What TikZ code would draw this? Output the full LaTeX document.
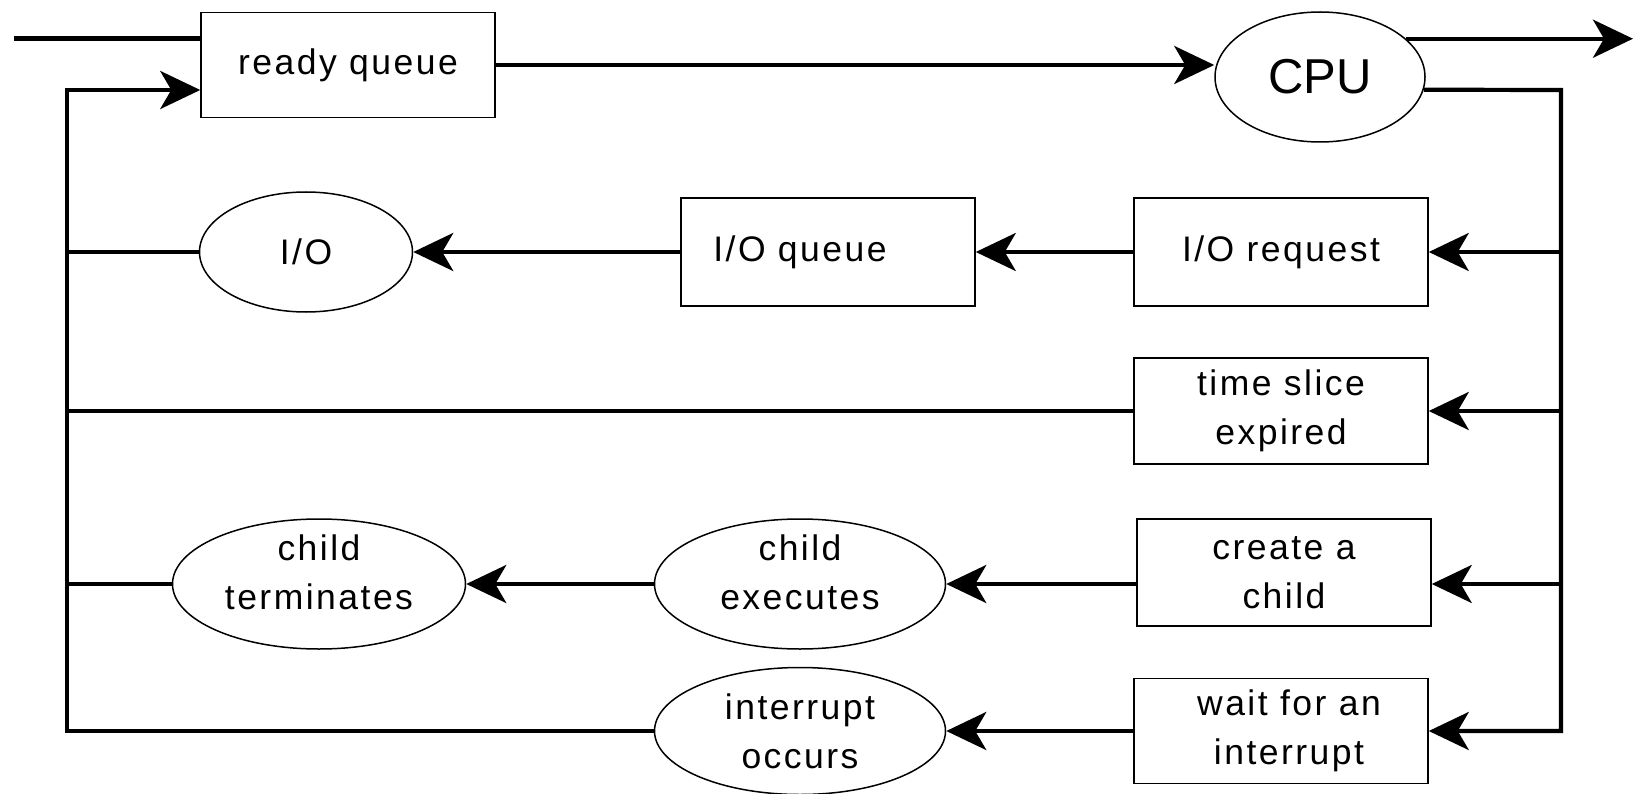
\documentclass[tikz,border=0pt]{standalone}
\usepackage{fontspec}
\setmainfont{Liberation Sans}
\newfontfamily\lblfont{Liberation Sans}[LetterSpace=7]
\usetikzlibrary{arrows.meta,shapes.geometric}

\begin{document}
\begin{tikzpicture}[x=1pt,y=-1pt,
  conn/.style={line width=4.2pt},
  arr/.style={conn,-{Stealth[length=40pt,width=38pt,inset=11pt]}},
  txt/.style={font=\lblfont\fontsize{35.5}{49}\selectfont,align=center},
  box/.style={draw,line width=1.5pt,rectangle,minimum width=294pt,
    minimum height=106pt,inner sep=0pt,txt},
  oval/.style={draw,line width=1.5pt,ellipse,inner sep=0pt,txt}]
\useasboundingbox (0,0) rectangle (1635,794);

% bus corners and row levels
\coordinate (in)   at (14,38.6);
\coordinate (out)  at (1633,38.6);
\coordinate (lbt)  at (67,90);
\coordinate (lbb)  at (67,731);
\coordinate (rbt)  at (1561,90);
\coordinate (rbb)  at (1561,731);
\coordinate (r3)   at (0,584);

% nodes
\node[box,minimum height=105pt] (rq) at (348,65) {ready queue};
\node[oval,minimum width=210pt,minimum height=130pt,
      font=\fontsize{49}{55}\selectfont] (cpu) at (1320,77) {CPU};

\node[oval,minimum width=213pt,minimum height=120pt] (io) at (306,252) {I/O};
\node[box,minimum height=108pt,
      label={[txt,xshift=-28pt]center:I/O queue}] (ioq) at (828,252) {};
\node[box,minimum height=108pt] (ioreq) at (1281,252) {I/O request};

\node[box] (ts) at (1281,411) {time slice\\expired};

\node[oval,minimum width=293pt,minimum height=130pt,
      label={[txt,yshift=12pt]center:child\\terminates}] (ct) at (319,584) {};
\node[oval,minimum width=291pt,minimum height=130pt,
      label={[txt,yshift=12pt]center:child\\executes}] (ce) at (800,584) {};
\node[box,minimum height=107pt] (cc) at (1284,572.5) {create a\\child};

\node[oval,minimum width=291pt,minimum height=127pt] (int) at (800,731) {interrupt\\occurs};
\node[box,minimum height=105pt,
      label={[txt,xshift=8pt]center:wait for an\\interrupt}] (wait) at (1281,731) {};

% entry, ready queue to CPU, exit
\draw[conn] (in) -- (in -| rq.west);
\draw[arr] (rq.east) -- (rq.east -| cpu.west);
\draw[arr] (cpu.24) -- (cpu.24 -| out);

% right-hand bus feeding the event boxes
\draw[arr] (cpu.-7) -- (rbt) -- (rbb) -- (wait.east);
\draw[arr] (ioreq.east -| rbt) -- (ioreq.east);
\draw[arr] (ts.east -| rbt) -- (ts.east);
\draw[arr] (r3 -| rbt) -- (r3 -| cc.east);

% rows
\draw[arr] (ioreq) -- (ioq);
\draw[arr] (ioq) -- (io);
\draw[conn] (io.west) -- (io.west -| lbt);
\draw[conn] (ts.west) -- (ts.west -| lbt);
\draw[arr] (r3 -| cc.west) -- (ce);
\draw[arr] (ce) -- (ct);
\draw[conn] (ct.west) -- (ct.west -| lbt);
\draw[arr] (wait) -- (int);

% left-hand return bus back to the ready queue
\draw[arr] (int.west) -- (lbb) -- (lbt) -- (lbt -| rq.west);
\end{tikzpicture}
\end{document}
